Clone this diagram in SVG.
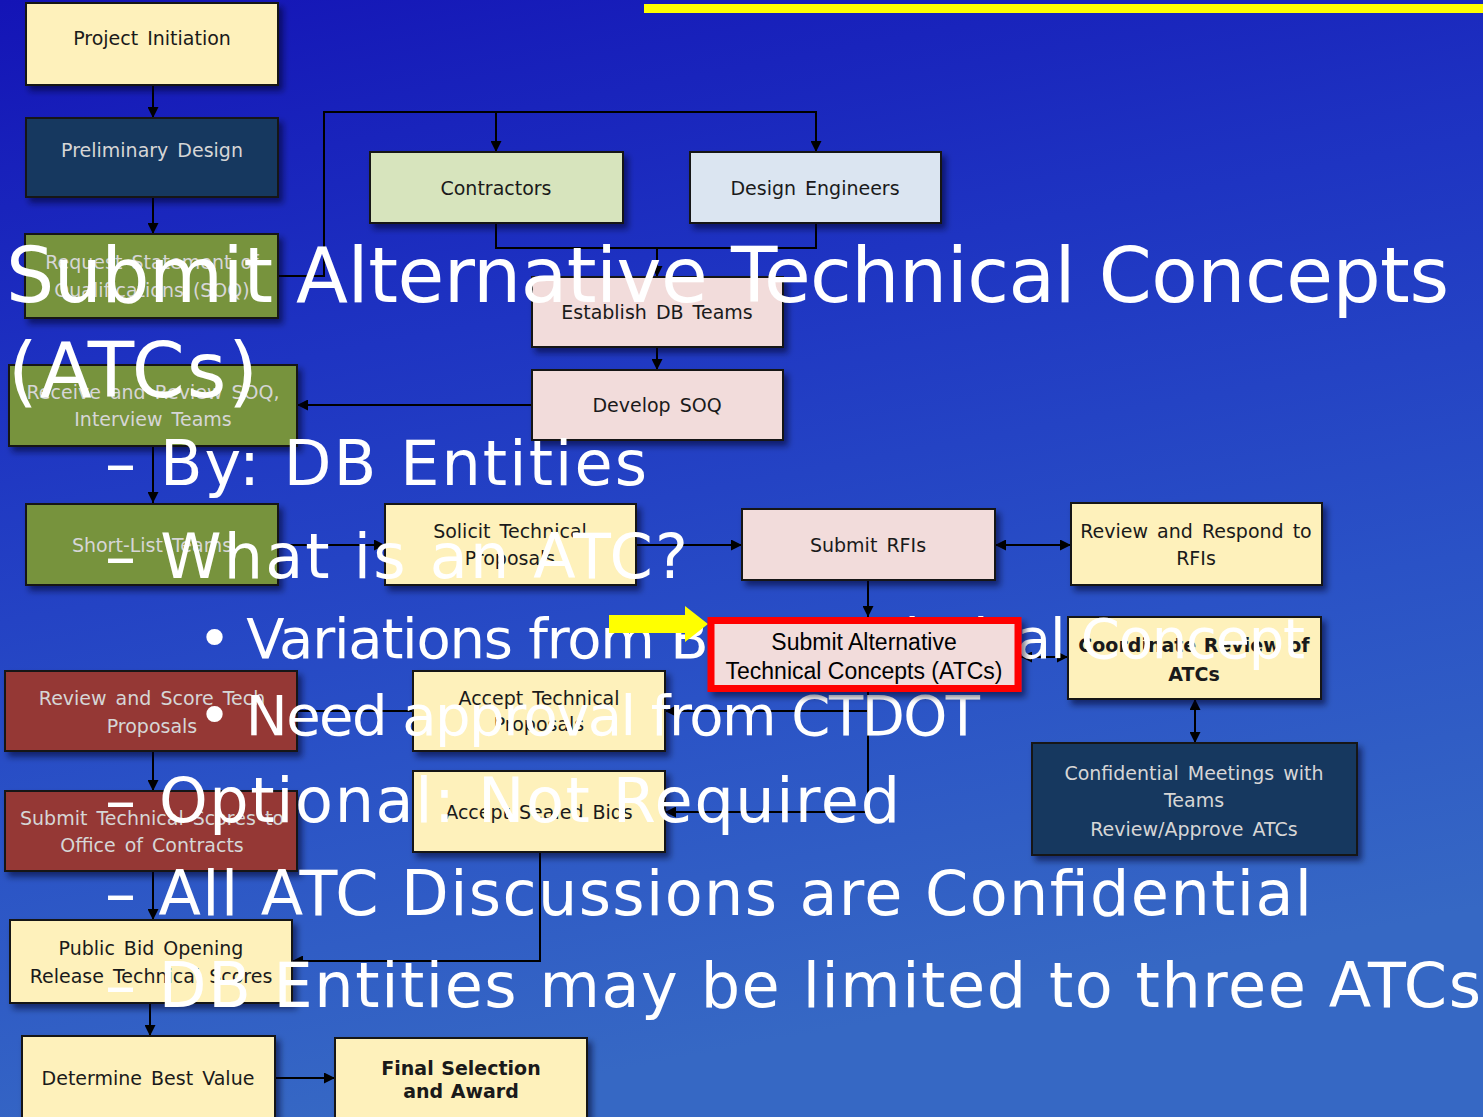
<svg xmlns="http://www.w3.org/2000/svg" width="1483" height="1117" viewBox="0 0 1483 1117">
  <defs>
    <linearGradient id="bg" x1="0" y1="0" x2="0.25" y2="1">
      <stop offset="0" stop-color="#1414b6"/>
      <stop offset="0.35" stop-color="#1e34c2"/>
      <stop offset="0.7" stop-color="#2a52c6"/>
      <stop offset="1" stop-color="#3668c4"/>
    </linearGradient>
    <filter id="shadow" x="-10%" y="-10%" width="130%" height="140%">
      <feDropShadow dx="4" dy="5" stdDeviation="3" flood-color="#000020" flood-opacity="0.55"/>
    </filter>
    <marker id="arrow" viewBox="0 0 10 10" refX="10" refY="5" markerWidth="11" markerHeight="11" markerUnits="userSpaceOnUse" orient="auto-start-reverse">
      <path d="M0,0 L10,5 L0,10 z" fill="#000"/>
    </marker>
    <style>
      .box { stroke: #151515; stroke-width: 2; filter: url(#shadow); }
      .yellow { fill: #fef1bb; }
      .navy { fill: #17375e; }
      .green { fill: #77933c; }
      .lgreen { fill: #d7e4bd; }
      .lblue { fill: #dbe5f1; }
      .pink { fill: #f2dcdb; }
      .red { fill: #953735; }
      .lbl { font-family: "DejaVu Sans", Verdana, sans-serif; font-size: 19px; text-anchor: middle; word-spacing: 3px; }
      .dark { fill: #1a1a1a; }
      .light { fill: #d6d6d6; }
      .bold { font-weight: bold; word-spacing: 1px; }
      .wire { fill: none; stroke: #000; stroke-width: 2; }
      .over { font-family: "DejaVu Sans", Verdana, sans-serif; fill: #ffffff; }
      .t1 { font-size: 76px; }
      .t2 { font-size: 62px; }
      .t3 { font-size: 56px; }
    </style>
  </defs>

  <!-- slide background -->
  <rect x="0" y="0" width="1483" height="1117" fill="url(#bg)"/>
  <rect x="644" y="4" width="839" height="9" fill="#ffff00"/>

  <!-- connectors -->
  <g id="connectors" class="wire">
    <path d="M153,85 V118" marker-end="url(#arrow)"/>
    <path d="M153,197 V234" marker-end="url(#arrow)"/>
    <path d="M278,276 H324 V112 H816 V152" marker-end="url(#arrow)"/>
    <path d="M496,112 V152" marker-end="url(#arrow)"/>
    <path d="M496,223 V248 H816 V223"/>
    <path d="M657,248 V277" marker-end="url(#arrow)"/>
    <path d="M657,347 V370" marker-end="url(#arrow)"/>
    <path d="M532,405 H297" marker-end="url(#arrow)"/>
    <path d="M153,445 V503" marker-end="url(#arrow)"/>
    <path d="M278,545 H385" marker-end="url(#arrow)"/>
    <path d="M636,545 H742" marker-end="url(#arrow)"/>
    <path d="M995,545 H1071" marker-start="url(#arrow)" marker-end="url(#arrow)"/>
    <path d="M868,580 V617" marker-end="url(#arrow)"/>
    <path d="M1021,657 H1068" marker-start="url(#arrow)" marker-end="url(#arrow)"/>
    <path d="M1195,699 V743" marker-start="url(#arrow)" marker-end="url(#arrow)"/>
    <path d="M868,692 V812 H665" marker-end="url(#arrow)"/>
    <path d="M868,711 H665" marker-end="url(#arrow)"/>
    <path d="M413,711 H298"/>
    <path d="M153,751 V791" marker-end="url(#arrow)"/>
    <path d="M153,871 V920" marker-end="url(#arrow)"/>
    <path d="M540,852 V961 H292" marker-end="url(#arrow)"/>
    <path d="M150,1003 V1036" marker-end="url(#arrow)"/>
    <path d="M275,1078 H335" marker-end="url(#arrow)"/>
  </g>

  <!-- process nodes -->
  <g id="project-initiation">
    <rect class="box yellow" x="26" y="3" width="252" height="82"/>
    <text class="lbl dark" x="152" y="45">Project Initiation</text>
  </g>
  <g id="preliminary-design">
    <rect class="box navy" x="26" y="118" width="252" height="79"/>
    <text class="lbl light" x="152" y="157">Preliminary Design</text>
  </g>
  <g id="request-soq">
    <rect class="box green" x="25" y="234" width="253" height="84"/>
    <text class="lbl light" x="152" y="269">Request Statement of</text>
    <text class="lbl light" x="152" y="297">Qualifications (SOQ)</text>
  </g>
  <g id="contractors">
    <rect class="box lgreen" x="370" y="152" width="253" height="71"/>
    <text class="lbl dark" x="496" y="195">Contractors</text>
  </g>
  <g id="design-engineers">
    <rect class="box lblue" x="690" y="152" width="251" height="71"/>
    <text class="lbl dark" x="815" y="195">Design Engineers</text>
  </g>
  <g id="establish-db-teams">
    <rect class="box pink" x="532" y="277" width="251" height="70"/>
    <text class="lbl dark" x="657" y="319">Establish DB Teams</text>
  </g>
  <g id="develop-soq">
    <rect class="box pink" x="532" y="370" width="251" height="70"/>
    <text class="lbl dark" x="657" y="412">Develop SOQ</text>
  </g>
  <g id="receive-review-soq">
    <rect class="box green" x="9" y="365" width="288" height="81"/>
    <text class="lbl light" x="153" y="399">Receive and Review SOQ,</text>
    <text class="lbl light" x="153" y="426">Interview Teams</text>
  </g>
  <g id="short-list-teams">
    <rect class="box green" x="26" y="504" width="252" height="81"/>
    <text class="lbl light" x="152" y="552">Short-List Teams</text>
  </g>
  <g id="solicit-proposals">
    <rect class="box yellow" x="385" y="504" width="251" height="81"/>
    <text class="lbl dark" x="510" y="538">Solicit Technical</text>
    <text class="lbl dark" x="510" y="565">Proposals</text>
  </g>
  <g id="submit-rfis">
    <rect class="box pink" x="742" y="509" width="253" height="71"/>
    <text class="lbl dark" x="868" y="552">Submit RFIs</text>
  </g>
  <g id="review-respond-rfis">
    <rect class="box yellow" x="1071" y="503" width="251" height="82"/>
    <text class="lbl dark" x="1196" y="538">Review and Respond to</text>
    <text class="lbl dark" x="1196" y="565">RFIs</text>
  </g>
  <g id="coordinate-review">
    <rect class="box yellow" x="1068" y="617" width="253" height="82"/>
    <text class="lbl dark bold" x="1194" y="652">Coordinate Review of</text>
    <text class="lbl dark bold" x="1194" y="681">ATCs</text>
  </g>
  <g id="confidential-meetings">
    <rect class="box navy" x="1032" y="743" width="325" height="112"/>
    <text class="lbl light" x="1194" y="780">Confidential Meetings with</text>
    <text class="lbl light" x="1194" y="807">Teams</text>
    <text class="lbl light" x="1194" y="836">Review/Approve ATCs</text>
  </g>
  <g id="review-score">
    <rect class="box red" x="5" y="671" width="292" height="80"/>
    <text class="lbl light" x="152" y="705">Review and Score Tech</text>
    <text class="lbl light" x="152" y="733">Proposals</text>
  </g>
  <g id="submit-scores">
    <rect class="box red" x="5" y="791" width="292" height="80"/>
    <text class="lbl light" x="152" y="825">Submit Technical Scores to</text>
    <text class="lbl light" x="152" y="852">Office of Contracts</text>
  </g>
  <g id="accept-proposals">
    <rect class="box yellow" x="413" y="671" width="252" height="80"/>
    <text class="lbl dark" x="539" y="705">Accept Technical</text>
    <text class="lbl dark" x="539" y="731">Proposals</text>
  </g>
  <g id="accept-bids">
    <rect class="box yellow" x="413" y="771" width="252" height="81"/>
    <text class="lbl dark" x="539" y="819">Accept Sealed Bids</text>
  </g>
  <g id="public-bid-opening">
    <rect class="box yellow" x="10" y="920" width="282" height="83"/>
    <text class="lbl dark" x="151" y="955">Public Bid Opening</text>
    <text class="lbl dark" x="151" y="983">Release Technical Scores</text>
  </g>
  <g id="determine-best-value">
    <rect class="box yellow" x="22" y="1036" width="253" height="90"/>
    <text class="lbl dark" x="148" y="1085">Determine Best Value</text>
  </g>
  <g id="final-selection">
    <rect class="box yellow" x="335" y="1038" width="252" height="90"/>
    <text class="lbl dark bold" x="461" y="1075">Final Selection</text>
    <text class="lbl dark bold" x="461" y="1098">and Award</text>
  </g>

  <!-- bullet text laid over the flow chart -->
  <g id="slide-text" class="over">
    <text class="t1" x="6" y="302" textLength="1443" lengthAdjust="spacing">Submit Alternative Technical Concepts</text>
    <text class="t1" x="8" y="397" textLength="250" lengthAdjust="spacing">(ATCs)</text>
    <text class="t2" x="105" y="485" textLength="542" lengthAdjust="spacing">– By: DB Entities</text>
    <text class="t2" x="105" y="578" textLength="583" lengthAdjust="spacing">– What is an ATC?</text>
    <text class="t3" x="198" y="658" textLength="1107" lengthAdjust="spacing">• Variations from Base Technical Concept</text>
    <text class="t3" x="198" y="735" textLength="782" lengthAdjust="spacing">• Need approval from CTDOT</text>
    <text class="t2" x="105" y="822" textLength="795" lengthAdjust="spacing">– Optional: Not Required</text>
    <text class="t2" x="105" y="915" textLength="1207" lengthAdjust="spacing">– All ATC Discussions are Confidential</text>
    <text class="t2" x="105" y="1007" textLength="1376" lengthAdjust="spacing">– DB Entities may be limited to three ATCs</text>
  </g>

  <!-- highlight pointer -->
  <polygon id="pointer" points="609,615 685,615 685,606 708,624 685,642 685,633 609,633" fill="#ffff00"/>

  <!-- highlighted step -->
  <g id="submit-atcs">
    <rect x="711" y="620.5" width="307" height="68" fill="#f2dcdb" stroke="#ff0000" stroke-width="7" filter="url(#shadow)"/>
    <text x="864" y="650" font-family="'Liberation Sans', Arial, sans-serif" font-size="23" text-anchor="middle" fill="#000">Submit Alternative</text>
    <text x="864" y="679" font-family="'Liberation Sans', Arial, sans-serif" font-size="23" text-anchor="middle" fill="#000">Technical Concepts (ATCs)</text>
  </g>
</svg>
